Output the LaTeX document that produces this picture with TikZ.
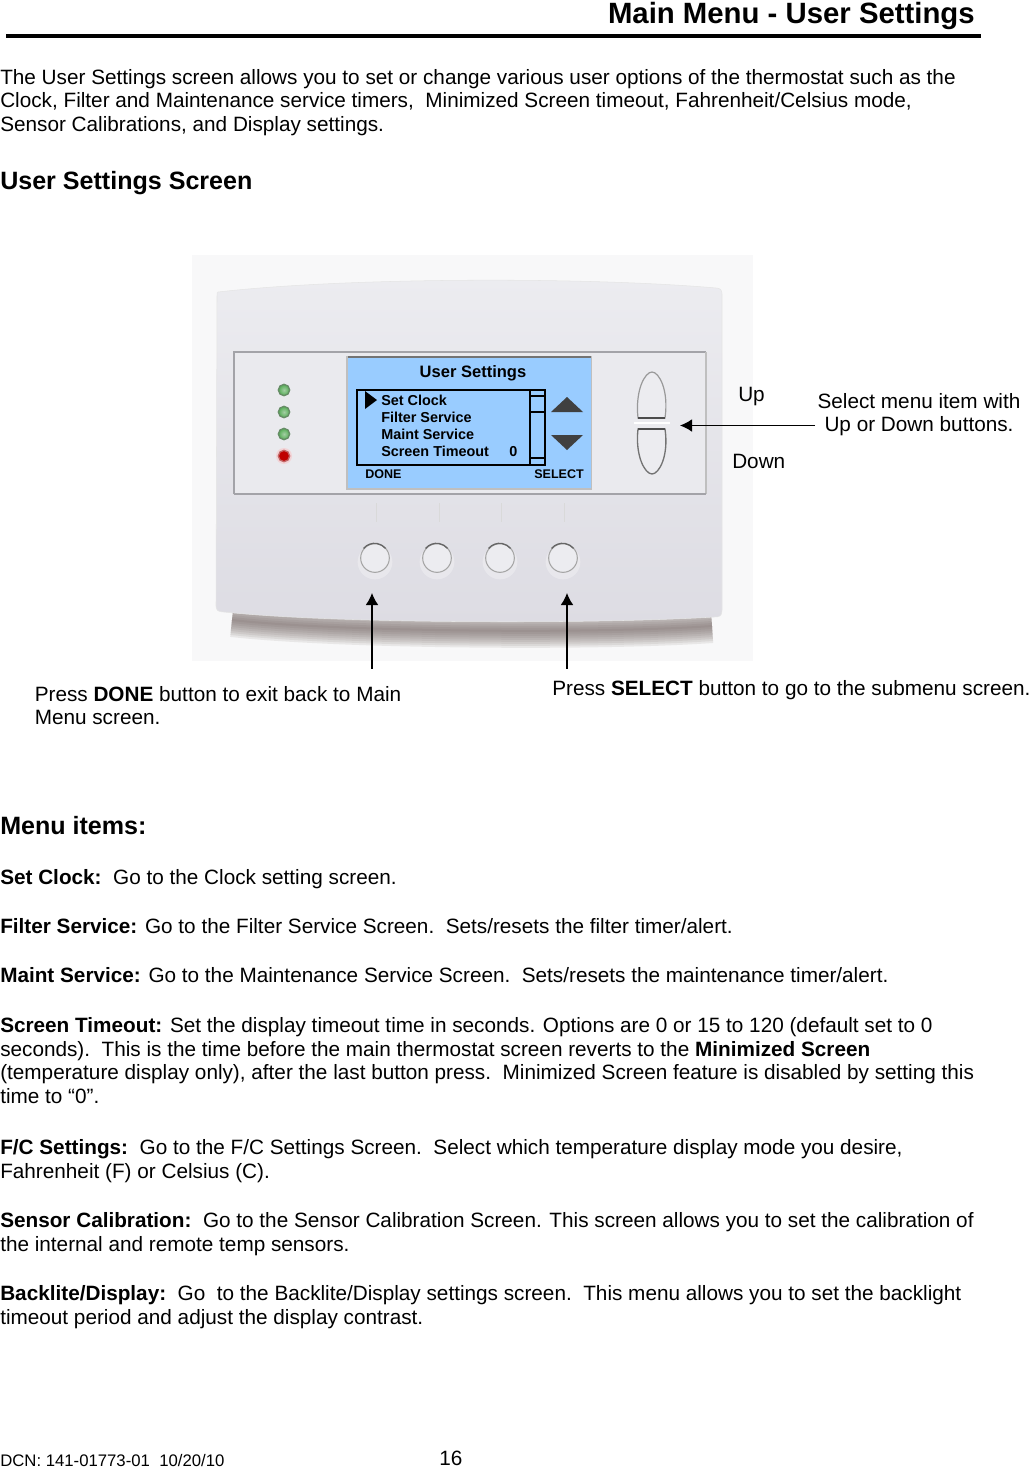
\documentclass[tikz,border=0pt]{standalone}
\usepackage{fontspec}
\setmainfont{Liberation Sans}
\usetikzlibrary{arrows.meta}
\definecolor{lcdblue}{HTML}{99CCFF}
\definecolor{photobg}{HTML}{F8F8F9}
\definecolor{bodylight}{HTML}{ECECF0}
\definecolor{bodydark}{HTML}{DDDCE3}
\definecolor{panelgrey}{HTML}{EAEAEE}
\definecolor{edgegrey}{HTML}{A3A3A8}
\definecolor{shadowtaupe}{HTML}{6E5F5C}
\newcommand{\bodyoutline}{(218,292) .. controls (350,277) and (590,277) .. (716,288)
  .. controls (720,288) and (722,290) .. (722,294) -- (722,610)
  .. controls (722,616) and (720,617) .. (714,617)
  .. controls (600,624) and (340,624) .. (224,612)
  .. controls (218,612) and (216,610) .. (216,606) -- (217,296)
  .. controls (217,294) and (217,292) .. (218,292) -- cycle}
\tikzset{
  bodytext/.style={anchor=north west,inner sep=0pt,align=left,
    font=\fontsize{15.55pt}{17.7pt}\selectfont},
  callout/.style={bodytext,anchor=base west},
  heading/.style={anchor=base west,inner sep=0pt,font=\fontsize{18.8pt}{20pt}\selectfont\bfseries},
  lcdtext/.style={anchor=base west,inner sep=0pt,font=\fontsize{10.8pt}{12pt}\selectfont\bfseries},
  softkey/.style={anchor=base west,inner sep=0pt,font=\fontsize{9.4pt}{11pt}\selectfont\bfseries},
  ledgreen/.style={circle,draw=green!25!black!60,line width=1pt,inner color=green!30!gray!55,outer color=green!35!gray,inner sep=0pt,minimum size=8.5pt},
  ledred/.style={circle,draw=red!60!black!60,line width=1pt,inner color=red!75!black,outer color=red!75!black,inner sep=0pt,minimum size=8.5pt},
  pushbutton/.style={circle,draw=black!35,fill=bodylight,line width=.8pt,inner sep=0pt,minimum size=21.5pt},
  pointer/.style={line width=.9pt,-{Latex[length=9pt,width=9.5pt]}}
}

\begin{document}
\begin{tikzpicture}[x=0.75pt,y=-0.75pt]
  \useasboundingbox (0,0) rectangle (1029,1467);

  % page heading
  \node[heading,anchor=base east,font=\fontsize{22pt}{24pt}\selectfont\bfseries] (title) at (975,23) {Main Menu - User Settings};
  \draw[line width=3pt] (6,36) -- (981,36);
  \node[bodytext] (intro) at (0,69) {The User Settings screen allows you to set or change various user options of the thermostat such as the\\
    Clock, Filter and Maintenance service timers,\ \ Minimized Screen timeout, Fahrenheit/Celsius mode,\\
    Sensor Calibrations, and Display settings.};
  \node[heading] (screenhead) at (0,189) {User Settings Screen};

  % thermostat photo
  \fill[photobg] (192,255) rectangle (753,661);
  \foreach \w in {34,30,...,2}
    \draw[shadowtaupe,opacity=.11,line width=\w*.75pt] (232,620) .. controls (340,632) and (600,634) .. (712,626);
  \shade[top color=bodylight,bottom color=bodydark] \bodyoutline;
  \draw[black!10] \bodyoutline;
  \fill[panelgrey] (234,352) rectangle (706,494);
  \draw[edgegrey,line width=1pt] (234,494) -- (234,352) -- (706,352);
  \draw[black!25,line width=1pt] (706,352) -- (706,494);
  \draw[edgegrey,line width=1.4pt] (234,494) -- (706,494);
  \draw[black!15] (376,503) -- (376,522) (439,503) -- (439,522) (501,503) -- (501,522) (564,503) -- (564,522);
  \fill[red!30,opacity=.4] (284,456) circle (6pt);
  \node[ledgreen] (led_a) at (284,390) {};
  \node[ledgreen] (led_b) at (284,412) {};
  \node[ledgreen] (led_c) at (284,434) {};
  \node[ledred]   (led_d) at (284,456) {};
  \foreach \x in {375,437,500,563}
    \fill[white,opacity=.3] (\x,562) circle (13pt);
  \node[pushbutton] (btn_done)   at (375,558) {};
  \node[pushbutton] (btn_two)    at (437,558) {};
  \node[pushbutton] (btn_three)  at (500,558) {};
  \node[pushbutton] (btn_select) at (563,558) {};
  \foreach \b in {btn_done,btn_two,btn_three,btn_select}
    \draw[black!60,line width=1pt] (\b.140) arc (140:40:10.75pt);

  % up and down rocker
  \draw[black!40,fill=bodylight,line width=.9pt] (638,418) .. controls (635,390) and (645,372) .. (652,372) .. controls (659,372) and (669,390) .. (665,418) -- cycle;
  \draw[black!55,fill=bodylight,line width=1pt] (638,429) .. controls (635,456) and (645,474) .. (652,474) .. controls (659,474) and (669,456) .. (665,429) -- cycle;
  \draw[black!70,line width=1.2pt] (638,418) -- (665,418) (638,429) -- (665,429);
  \draw[white,line width=1pt] (634,423) -- (670,423);

  % LCD screen
  \fill[black!25] (346,356) rectangle (592,490);
  \fill[black!55] (348,355.5) rectangle (591,358);
  \fill[lcdblue] (348,358) rectangle (591,488);
  \node[lcdtext,anchor=base,font=\fontsize{12.4pt}{14pt}\selectfont\bfseries] (lcd_title) at (473,377) {User Settings};
  \draw[line width=1pt] (357,390) rectangle (545,465);
  \draw[line width=.8pt] (530,390) -- (530,465) (530,396) -- (545,396) (530,458) -- (545,458);
  \draw[line width=2pt] (530,412) -- (545,412);
  \fill (365,391) -- (377,400) -- (365,409) -- cycle;
  \node[lcdtext] (item_clock)   at (381,405.5) {Set Clock};
  \node[lcdtext] (item_filter)  at (381,422.5) {Filter Service};
  \node[lcdtext] (item_maint)   at (381,439.5) {Maint Service};
  \node[lcdtext] (item_timeout) at (381,456.5) {Screen Timeout};
  \node[lcdtext] (item_value)   at (509,456.5) {0};
  \node[softkey] (key_done)     at (365,478) {DONE};
  \node[softkey,anchor=base east] (key_select) at (584,478) {SELECT};
  \fill[black!75] (551,412) -- (567,397) -- (583,412) -- cycle;
  \fill[black!75] (551,435) -- (583,435) -- (567,450) -- cycle;

  % callouts
  \node[callout] (lbl_up)   at (738,401) {Up};
  \node[callout] (lbl_down) at (732,468) {Down};
  \node[bodytext,anchor=north,align=center] (lbl_select) at (919,393) {Select menu item with\\Up or Down buttons.};
  \node[bodytext] (lbl_done) at (34.5,686) {Press \textbf{DONE} button to exit back to Main\\Menu screen.};
  \node[bodytext] (lbl_sub)  at (552,680) {Press \textbf{SELECT} button to go to the submenu screen.};

  \coordinate (up_tip)     at (680,425.5);
  \coordinate (up_tail)    at (815,425.5);
  \coordinate (done_tip)   at (372,593);
  \coordinate (done_tail)  at (372,668.5);
  \coordinate (sel_tip)    at (567,593);
  \coordinate (sel_tail)   at (567,668.5);
  \path[pointer] (up_tail)   edge (up_tip)
                 (done_tail) edge (done_tip)
                 (sel_tail)  edge (sel_tip);

  % menu items
  \node[heading] (menuhead) at (0,834) {Menu items:};
  \node[bodytext] (m_clock)  at (0,869.2)  {\textbf{Set Clock:}\ \ Go to the Clock setting screen.};
  \node[bodytext] (m_filter) at (0,918.2)  {\textbf{Filter Service:} Go to the Filter Service Screen.\ \ Sets/resets the filter timer/alert.};
  \node[bodytext] (m_maint)  at (0,967.2)  {\textbf{Maint Service:} Go to the Maintenance Service Screen.\ \ Sets/resets the maintenance timer/alert.};
  \node[bodytext] (m_screen) at (0,1017.2) {\textbf{Screen Timeout:} Set the display timeout time in seconds. Options are 0 or 15 to 120 (default set to 0\\
    seconds).\ \ This is the time before the main thermostat screen reverts to the \textbf{Minimized Screen}\\
    (temperature display only), after the last button press.\ \ Minimized Screen feature is disabled by setting this\\
    time to “0”.};
  \node[bodytext] (m_fc)     at (0,1139.2) {\textbf{F/C Settings:}\ \ Go to the F/C Settings Screen.\ \ Select which temperature display mode you desire,\\
    Fahrenheit (F) or Celsius (C).};
  \node[bodytext] (m_sensor) at (0,1212.2) {\textbf{Sensor Calibration:}\ \ Go to the Sensor Calibration Screen. This screen allows you to set the calibration of\\
    the internal and remote temp sensors.};
  \node[bodytext] (m_back)   at (0,1285.2) {\textbf{Backlite/Display:}\ \ Go\ \ to the Backlite/Display settings screen.\ \ This menu allows you to set the backlight\\
    timeout period and adjust the display contrast.};

  % footer
  \node[anchor=base west,inner sep=0pt,font=\fontsize{12.55pt}{14pt}\selectfont] (dcn) at (0,1466) {DCN: 141-01773-01\ \ 10/20/10};
  \node[anchor=base west,inner sep=0pt,font=\fontsize{15.55pt}{17pt}\selectfont] (pageno) at (439,1465.5) {16};
\end{tikzpicture}
\end{document}
